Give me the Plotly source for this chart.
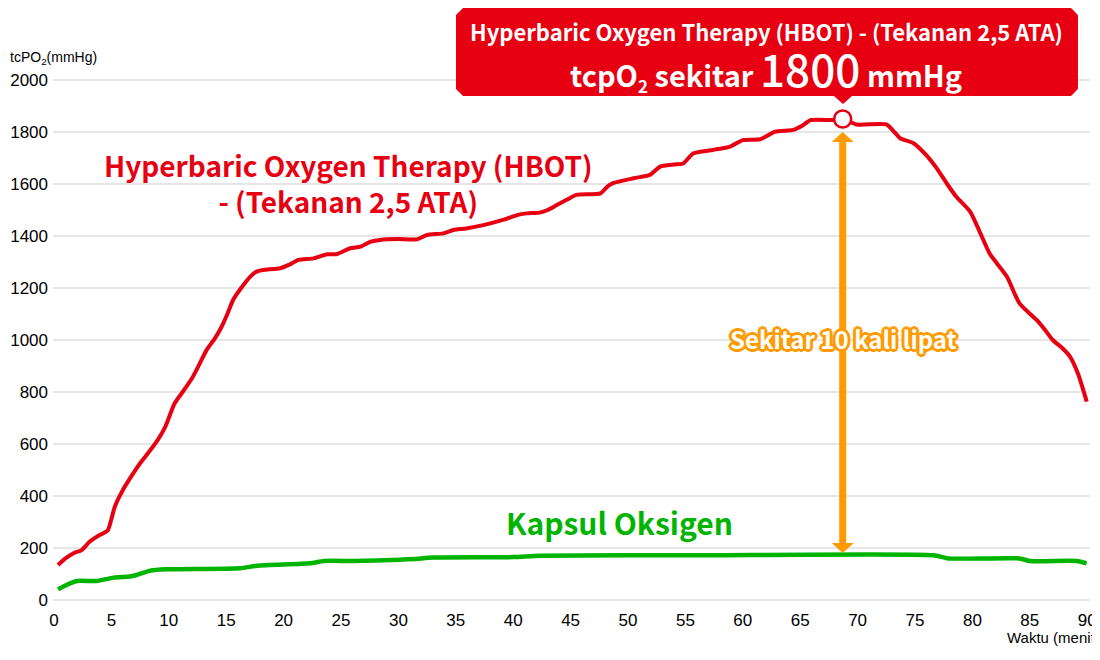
import plotly.graph_objects as go

# tcPO2 selama terapi (menit, mmHg)
hbot_menit = [0.35, 1.0, 1.7, 2.4, 3.1, 3.8, 4.3, 4.7, 5.3, 6.0, 6.8, 7.5, 8.4, 9.1, 9.7,
              10.5, 11.3, 12.1, 12.7, 13.3, 14.0, 14.6, 15.1, 15.6, 16.3, 17.1, 17.6, 18.2,
              19.7, 20.5, 21.3, 22.6, 23.8, 24.6, 25.8, 26.7, 27.6, 28.4, 30.0, 31.6, 32.5,
              33.9, 34.8, 35.9, 37.4, 39.1, 40.5, 41.2, 42.3, 43.0, 43.8, 44.7, 45.5, 47.6,
              48.2, 48.7, 50.5, 51.9, 52.8, 54.0, 54.8, 55.7, 57.4, 58.9, 60.0, 61.5, 62.8,
              64.4, 65.2, 65.9, 67.9, 68.7, 69.9, 72.5, 73.2, 73.7, 74.9, 76.0, 76.9, 77.8,
              78.6, 79.8, 80.6, 81.5, 83.0, 84.1, 85.6, 86.3, 87.0, 87.8, 88.5, 89.2, 89.96]
hbot_tcpo2 = [135, 160, 180, 192, 224, 245, 257, 269, 359, 423, 480, 526, 577, 620, 667,
              756, 806, 859, 910, 962, 1005, 1051, 1100, 1154, 1200, 1244, 1262, 1269,
              1276, 1290, 1308, 1314, 1330, 1330, 1353, 1359, 1378, 1385, 1388, 1387, 1404,
              1410, 1423, 1429, 1442, 1462, 1482, 1487, 1490, 1500, 1519, 1540, 1558, 1564,
              1590, 1603, 1622, 1635, 1667, 1675, 1679, 1718, 1731, 1744, 1769, 1772, 1801,
              1808, 1825, 1846, 1846, 1850, 1829, 1829, 1800, 1776, 1756, 1710, 1660, 1600,
              1551, 1494, 1420, 1333, 1244, 1141, 1077, 1040, 1000, 970, 936, 870, 763]

kapsul_menit = [0.35, 1.0, 2.0, 3.7, 5.2, 6.6, 7.2, 8.4, 9.8, 16.2, 17.7, 22.3, 23.5, 26.1,
                30.1, 31.5, 33.0, 40.0, 42.3, 56.3, 76.6, 77.9, 84.1, 85.0, 89.1, 89.95]
kapsul_tcpo2 = [41, 56, 73, 73, 86, 90, 96, 113, 118, 122, 132, 141, 150, 150,
                155, 158, 163, 165, 170, 172, 172, 160, 160, 150, 150, 141]

puncak = hbot_tcpo2.index(max(hbot_tcpo2))

x_ticks = list(range(0, 91, 5))
y_ticks = list(range(0, 2001, 200))

MERAH = "#e60012"
HIJAU = "#00b400"
ORANYE = "#ff9a00"
FONT_JP = "Noto Sans CJK JP"

# halaman punya margin 8px, jadi gambar dibuat 8px lebih kecil
W, H = 1092, 652
PL, PR, PT, PB = 53, 1090, 8, 608   # tepi area plot dalam piksel halaman


def px(x_pix, y_pix):
    # piksel halaman -> koordinat sumbu (untuk hiasan saja)
    return (x_pix - 54) / 11.48, (600 - y_pix) / 0.26


def pp(x_pix, y_pix):
    # piksel halaman -> koordinat paper
    return (x_pix - PL) / (PR - PL), (PB - y_pix) / (PB - PT)


def path(points, conv):
    s = ""
    for i, (a, b) in enumerate(points):
        xx, yy = conv(a, b)
        s += ("M" if i == 0 else "L") + f"{xx:.4f},{yy:.4f} "
    return s + "Z"


fig = go.Figure()
fig.add_trace(go.Scatter(x=kapsul_menit, y=kapsul_tcpo2, mode="lines",
                         line=dict(color=HIJAU, width=4.5, shape="spline", smoothing=0.6),
                         hoverinfo="skip"))
fig.add_trace(go.Scatter(x=hbot_menit, y=hbot_tcpo2, mode="lines",
                         line=dict(color=MERAH, width=4, shape="spline", smoothing=0.6),
                         hoverinfo="skip"))
fig.add_trace(go.Scatter(x=[hbot_menit[puncak]], y=[hbot_tcpo2[puncak]], mode="markers",
                         marker=dict(size=17, color="white", line=dict(color=MERAH, width=2.5)),
                         hoverinfo="skip"))

# kotak keterangan dengan penunjuk
L, R, T, B, r = 456, 1078, 8, 96, 7
kotak = [(L + r, T), (R - r, T), (R, T + r), (R, B - r), (R - r, B), (852, B), (843, 104),
         (834, B), (L + r, B), (L, B - r), (L, T + r)]
fig.add_shape(type="path", xref="paper", yref="paper", path=path(kotak, pp),
              fillcolor=MERAH, line=dict(width=0), layer="above")

# panah dua arah
ax_ = 842.7
x0, _ = px(ax_ - 3.5, 0)
x1, _ = px(ax_ + 3.5, 0)
_, y0 = px(0, 141)
_, y1 = px(0, 544)
fig.add_shape(type="rect", x0=x0, x1=x1, y0=y1, y1=y0, fillcolor=ORANYE, line=dict(width=0))
fig.add_shape(type="path", path=path([(ax_, 132), (ax_ + 11, 142), (ax_ - 11, 142)], px),
              fillcolor=ORANYE, line=dict(width=0))
fig.add_shape(type="path", path=path([(ax_, 553), (ax_ + 11, 543), (ax_ - 11, 543)], px),
              fillcolor=ORANYE, line=dict(width=0))

annotations = []
cx, _ = px(766, 0)
_, cy1 = px(0, 31)
_, cy2 = px(0, 68)
annotations.append(dict(x=cx, y=cy1, xref="x", yref="y", showarrow=False,
                        text="<b>Hyperbaric Oxygen Therapy (HBOT) - (Tekanan 2,5 ATA)</b>",
                        font=dict(family=FONT_JP, size=22, color="white")))
annotations.append(dict(x=cx, y=cy2, xref="x", yref="y", showarrow=False,
                        text="<b>tcpO<sub><span style='font-size:17px'>2</span></sub> sekitar </b>"
                             "<span style='font-size:44px;font-weight:500'>1800</span><b> mmHg</b>",
                        font=dict(family=FONT_JP, size=29, color="white")))

lx, ly = px(348, 183)
annotations.append(dict(x=lx, y=ly, xref="x", yref="y", showarrow=False,
                        text="<b>Hyperbaric Oxygen Therapy (HBOT)<br>- (Tekanan 2,5 ATA)</b>",
                        font=dict(family=FONT_JP, size=28, color=MERAH)))
kx, ky = px(619, 522)
annotations.append(dict(x=kx, y=ky, xref="x", yref="y", showarrow=False,
                        text="<b>Kapsul Oksigen</b>",
                        font=dict(family=FONT_JP, size=30, color=HIJAU)))

sh = ", ".join(f"{a}px {b}px 0 {ORANYE}" for a, b in
               [(2, 0), (-2, 0), (0, 2), (0, -2), (2, 2), (-2, -2), (2, -2), (-2, 2),
                (3, 0), (-3, 0), (0, 3), (0, -3)])
sx, sy = px(843, 338)
annotations.append(dict(x=sx, y=sy, xref="x", yref="y", showarrow=False,
                        text="<b>Sekitar 10 kali lipat</b>",
                        font=dict(family=FONT_JP, size=24, color="white", shadow=sh)))

tx, ty = pp(8, 47)
annotations.append(dict(x=tx, y=ty, xref="paper", yref="paper", showarrow=False,
                        xanchor="left", text="tcPO<sub>2</sub>(mmHg)",
                        font=dict(family="Liberation Sans", size=14, color="#000")))
wx, wy = pp(1005, 648)
annotations.append(dict(x=wx, y=wy, xref="paper", yref="paper", showarrow=False,
                        xanchor="left", text="Waktu (menit)",
                        font=dict(family="Liberation Sans", size=15, color="#000")))

fig.update_layout(
    width=W, height=H,
    margin=dict(l=PL - 8, r=W + 8 - PR, t=PT - 8, b=H + 8 - PB),
    plot_bgcolor="white", paper_bgcolor="white",
    showlegend=False,
    annotations=annotations,
    font=dict(family="Liberation Sans", size=17, color="#000"),
)
fig.update_xaxes(range=[px(PL, 0)[0], px(PR, 0)[0]], tickvals=x_ticks, showgrid=False,
                 zeroline=False, showline=False, ticks="", tickfont=dict(size=17))
fig.update_yaxes(range=[px(0, PB)[1], px(0, PT)[1]], tickvals=y_ticks, showgrid=True,
                 gridcolor="#e6e6e6", gridwidth=1.5, zeroline=False, showline=False, ticks="",
                 tickfont=dict(size=17), ticklabelstandoff=4)

fig.write_html("out.html", config={"displayModeBar": False})
